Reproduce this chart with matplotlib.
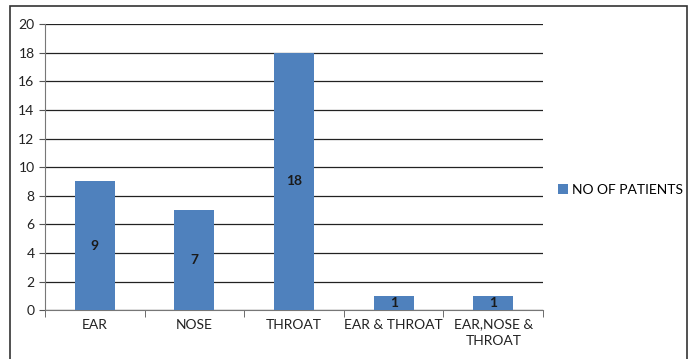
import matplotlib.pyplot as plt
from matplotlib.patches import Rectangle

categories = ['EAR', 'NOSE', 'THROAT', 'EAR & THROAT', 'EAR,NOSE &\nTHROAT']
patients = [9, 7, 18, 1, 1]
series_name = 'NO OF PATIENTS'

plt.rcParams['font.family'] = ['Lato', 'DejaVu Sans']

fig = plt.figure(figsize=(6.91, 3.59), dpi=100)
ax = fig.add_axes([0.065, 0.136, 0.721, 0.797])

x = list(range(len(categories)))
bars = ax.bar(x, patients, width=0.4, color='#4F81BD', label=series_name, zorder=3)
for xi, v in zip(x, patients):
    ax.text(xi, v / 2, str(v), ha='center', va='center', fontsize=10,
            fontweight='bold', color='#1a1a1a', zorder=4)

ax.set_xlim(-0.5, len(categories) - 0.5)
ax.set_ylim(0, 20)
ax.set_yticks(range(0, 21, 2))
ax.yaxis.grid(True, color='#222222', linewidth=0.9, zorder=0)
ax.set_axisbelow(True)

ax.set_xticks(x)
ax.set_xticklabels(categories, fontsize=10, color='#222222', linespacing=1.4)
ax.tick_params(axis='x', length=0, pad=6)
ax.set_xticks([i + 0.5 for i in range(-1, len(categories))], minor=True)
ax.tick_params(axis='x', which='minor', length=5, color='#555555')
ax.tick_params(axis='y', labelsize=10, length=4, color='#555555', labelcolor='#222222')

for s in ['top', 'right']:
    ax.spines[s].set_visible(False)
ax.spines['left'].set_color('#777777')
ax.spines['bottom'].set_color('#777777')

ax.legend(loc='center left', bbox_to_anchor=(1.005, 0.42), frameon=False,
          fontsize=10, handlelength=0.7, handleheight=0.7, handletextpad=0.3)

fig.patches.append(Rectangle((0.0145, -0.01), 0.979, 0.993, transform=fig.transFigure,
                             fill=False, edgecolor='#333333', linewidth=1.2))

fig.savefig('out.png', dpi=100)
